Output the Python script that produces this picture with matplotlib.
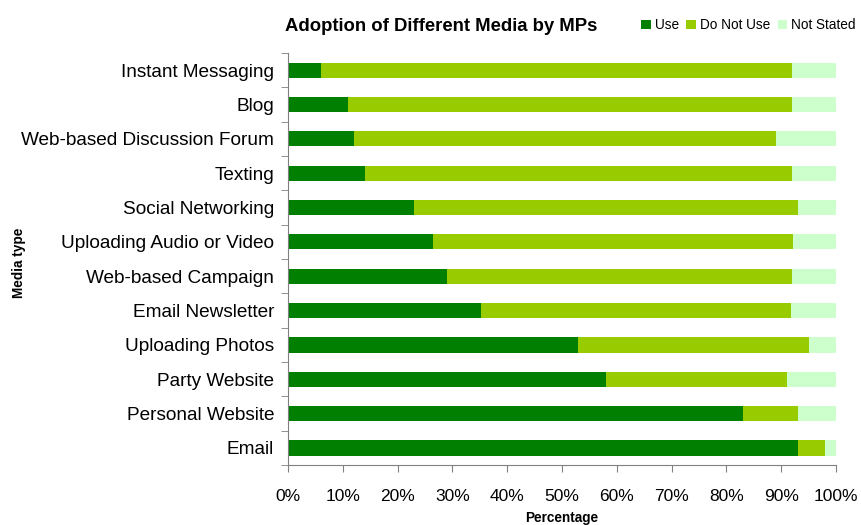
import matplotlib.pyplot as plt
from matplotlib.ticker import PercentFormatter

plt.rcParams['font.family'] = ['Liberation Sans', 'DejaVu Sans']

media = ['Instant Messaging', 'Blog', 'Web-based Discussion Forum', 'Texting',
         'Social Networking', 'Uploading Audio or Video', 'Web-based Campaign',
         'Email Newsletter', 'Uploading Photos', 'Party Website',
         'Personal Website', 'Email']
use = [6.0, 11.0, 12.0, 14.0, 23.0, 26.5, 29.0, 35.2, 53.0, 58.0, 83.0, 93.0]
do_not_use = [86.0, 81.0, 77.0, 78.0, 70.0, 65.7, 63.0, 56.6, 42.0, 33.0, 10.0, 5.0]
not_stated = [100 - u - d for u, d in zip(use, do_not_use)]

fig = plt.figure(figsize=(8.62, 5.25), dpi=100)
ax = fig.add_axes([0.334, 0.114, 0.636, 0.785])

y = list(range(len(media)))
h = 0.44
ax.barh(y, use, height=h, color='#007F00', label='Use')
ax.barh(y, do_not_use, left=use, height=h, color='#99CC00', label='Do Not Use')
left2 = [u + d for u, d in zip(use, do_not_use)]
ax.barh(y, not_stated, left=left2, height=h, color='#CCFFCC', label='Not Stated')

ax.set_xlim(0, 100)
ax.set_ylim(len(media) - 0.5, -0.5)
ax.set_xticks(range(0, 101, 10))
ax.xaxis.set_major_formatter(PercentFormatter(decimals=0))
ax.set_yticks(y)
ax.set_yticklabels(media, fontsize=13.7)
ax.set_yticks([i - 0.5 for i in range(len(media) + 1)], minor=True)
ax.tick_params(axis='y', which='major', length=0, pad=10)
ax.tick_params(axis='y', which='minor', length=5, color='#808080', direction='out')
ax.tick_params(axis='x', labelsize=12.5, length=5, color='#808080', pad=12)

for s in ['top', 'right']:
    ax.spines[s].set_visible(False)
for s in ['left', 'bottom']:
    ax.spines[s].set_color('#808080')

ax.set_xlabel('Percentage', fontsize=9.8, fontweight='bold', labelpad=5)
fig.text(0.022, 0.5, 'Media type', rotation=90, fontsize=9.8, fontweight='bold',
         va='center', ha='center')
fig.text(0.512, 0.949, 'Adoption of Different Media by MPs', fontsize=13.3,
         fontweight='bold', ha='center', va='center')

fig.legend(loc='center right', bbox_to_anchor=(1.0, 0.952), ncol=3, frameon=False,
           fontsize=9.8, handlelength=0.7, handleheight=0.7, handletextpad=0.3,
           columnspacing=0.55, borderaxespad=0.05)

fig.savefig('out.png', dpi=100)
